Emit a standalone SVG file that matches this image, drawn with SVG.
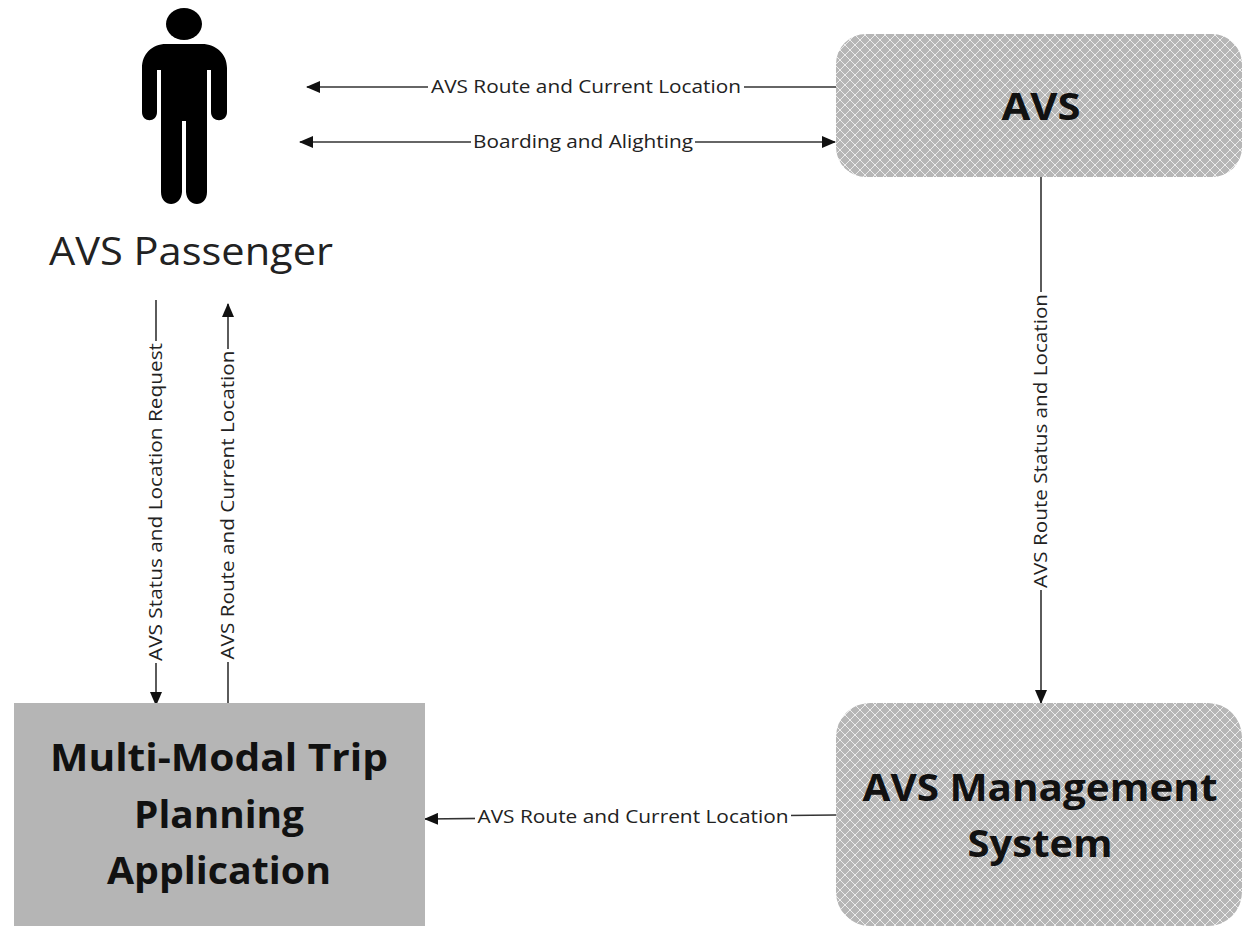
<svg xmlns="http://www.w3.org/2000/svg" width="1243" height="926" viewBox="0 0 1243 926">
<style>
.lbl{font-family:"Open Sans","Noto Sans","Liberation Sans",sans-serif;font-size:18px;fill:#222;text-anchor:middle}
.ttl{font-family:"Open Sans","Noto Sans","Liberation Sans",sans-serif;font-size:38px;font-weight:700;fill:#111;text-anchor:middle}
.ln{stroke:#333;stroke-width:1.6;fill:none}
.gap{fill:#fff}
</style>
<defs>
<pattern id="hatch" width="10" height="10" patternUnits="userSpaceOnUse">
<rect width="10" height="10" fill="#b6b6b6"/>
<path d="M-2 12L12 -2M-2 2L2 -2M8 12L12 8M-2 -2L12 12M-2 8L2 12M8 -2L12 2" stroke="#ececec" stroke-width="1"/>
</pattern>
<marker id="ah" markerUnits="userSpaceOnUse" markerWidth="14" markerHeight="12" refX="13" refY="6" orient="auto-start-reverse">
<path d="M0 0L14 6L0 12Z" fill="#111"/>
</marker>
</defs>
<g id="connectors">
<path class="ln" d="M836 87H307" marker-end="url(#ah)"/>
<path class="ln" d="M300 142H835" marker-start="url(#ah)" marker-end="url(#ah)"/>
<path class="ln" d="M156 300V705" marker-end="url(#ah)"/>
<path class="ln" d="M228 710V304" marker-end="url(#ah)"/>
<path class="ln" d="M1041 177V703" marker-end="url(#ah)"/>
<path class="ln" d="M836 815L425 819" marker-end="url(#ah)"/>
</g>
<g id="connector-labels">
<g><rect class="gap" x="428" y="76" width="316" height="22"/><text class="lbl" x="586" y="93" textLength="310" lengthAdjust="spacingAndGlyphs">AVS Route and Current Location</text></g>
<g><rect class="gap" x="471" y="131" width="224" height="22"/><text class="lbl" x="583" y="148" textLength="220" lengthAdjust="spacingAndGlyphs">Boarding and Alighting</text></g>
<g><rect class="gap" x="145" y="341" width="22" height="322"/><text class="lbl" transform="translate(162 502) rotate(-90)" textLength="318" lengthAdjust="spacingAndGlyphs">AVS Status and Location Request</text></g>
<g><rect class="gap" x="217" y="349" width="22" height="313"/><text class="lbl" transform="translate(234 505) rotate(-90)" textLength="309" lengthAdjust="spacingAndGlyphs">AVS Route and Current Location</text></g>
<g><rect class="gap" x="1030" y="292" width="22" height="298"/><text class="lbl" transform="translate(1047 441) rotate(-90)" textLength="294" lengthAdjust="spacingAndGlyphs">AVS Route Status and Location</text></g>
<g><rect class="gap" x="475" y="805" width="316" height="24"/><text class="lbl" x="633" y="823" textLength="311" lengthAdjust="spacingAndGlyphs">AVS Route and Current Location</text></g>
</g>
<g id="passenger">
<ellipse cx="184" cy="24" rx="18" ry="16" fill="#000"/>
<path fill="#000" d="M166 44H202C216 44 227 54 227 68V112C227 123 211 123 211 112V70H207V192C207 208 187 208 186 192V121H182V192C181 208 161 208 161 192V70H157V112C157 123 142 123 142 112V68C142 54 152 44 166 44Z"/>
<text x="191" y="265" font-family="Open Sans,Noto Sans,sans-serif" font-size="38" fill="#222" text-anchor="middle" textLength="284" lengthAdjust="spacingAndGlyphs">AVS Passenger</text>
</g>
<g id="avs">
<rect x="836" y="34" width="406" height="143" rx="30" fill="url(#hatch)"/>
<text class="ttl" x="1041" y="120" textLength="79" lengthAdjust="spacingAndGlyphs">AVS</text>
</g>
<g id="management">
<rect x="836" y="703" width="406" height="223" rx="34" fill="url(#hatch)"/>
<text class="ttl" x="1040" y="801" textLength="355" lengthAdjust="spacingAndGlyphs">AVS Management</text>
<text class="ttl" x="1040" y="857" textLength="145" lengthAdjust="spacingAndGlyphs">System</text>
</g>
<g id="trip-planner">
<rect x="14" y="703" width="411" height="223" fill="#b5b5b5"/>
<text class="ttl" x="219" y="771" textLength="338" lengthAdjust="spacingAndGlyphs">Multi-Modal Trip</text>
<text class="ttl" x="219" y="828" textLength="170" lengthAdjust="spacingAndGlyphs">Planning</text>
<text class="ttl" x="219" y="884" textLength="224" lengthAdjust="spacingAndGlyphs">Application</text>
</g>
</svg>
